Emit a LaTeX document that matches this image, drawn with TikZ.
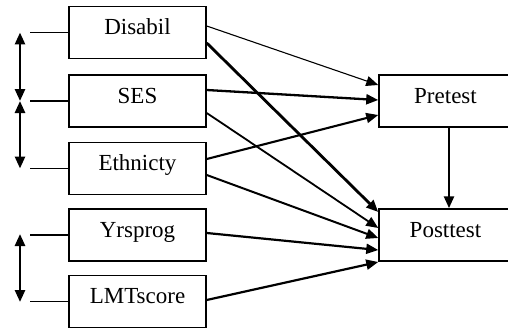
\documentclass[tikz,border=0pt]{standalone}
\usepackage{fontspec}
\setmainfont{Liberation Serif}
\usetikzlibrary{arrows.meta}
\begin{document}
\begin{tikzpicture}[x=1pt,y=-1pt,
  box/.style={draw,line width=1.5pt,minimum width=137pt,minimum height=52pt,inner sep=0pt,
    font=\fontsize{23}{26}\selectfont,text height=16pt,text depth=12pt},
  obox/.style={box,minimum width=133pt},
  arr/.style={-{Triangle[length=12pt,width=10pt]},line width=2pt},
  dbl/.style={{Triangle[length=12pt,width=10pt]}-{Triangle[length=12pt,width=10pt]},line width=2.6pt},
  tick/.style={line width=1.3pt}]
\useasboundingbox (0,0) rectangle (508,329);
\node[box] (dis) at (137.5,32.5) {Disabil};
\node[box] (ses) at (137.5,101) {SES};
\node[box] (eth) at (137.5,168.5) {Ethnicty};
\node[box] (yrs) at (137.5,235) {Yrsprog};
\node[box] (lmt) at (137.5,301.5) {LMTscore};
\node[obox] (pre) at (445.5,101) {Pretest};
\node[obox] (post) at (445.5,235) {Posttest};
% left side ticks
\coordinate (l1) at (30,32.5);
\coordinate (l2) at (30,101);
\coordinate (l3) at (30,168.5);
\coordinate (l4) at (30,235);
\coordinate (l5) at (30,301.5);
\draw[tick] (dis.west) -- (l1);
\draw[tick] (ses.west) -- (l2);
\draw[tick] (eth.west) -- (l3);
\draw[tick] (yrs.west) -- (l4);
\draw[tick] (lmt.west) -- (l5);
\coordinate (a1) at (20,32.5);
\coordinate (a2) at (20,101);
\coordinate (a3) at (20,168.5);
\coordinate (a4) at (20,234);
\coordinate (a5) at (20,302);
\draw[dbl] (a1) -- (a2);
\draw[dbl] (a2) -- (a3);
\draw[dbl] (a4) -- (a5);
% paths to Pretest
\draw[arr,line width=1.1pt] ([yshift=6.5pt]dis.east) -- ([yshift=16pt]pre.west);
\draw[arr,line width=2.3pt] ([yshift=11pt]ses.east) -- ([yshift=1pt]pre.west);
\draw[arr,line width=2.1pt] ([yshift=9.5pt]eth.east) -- ([yshift=-14pt]pre.west);
% paths to Posttest
\draw[arr,line width=2.8pt] ([yshift=-10.5pt]dis.east) -- ([yshift=23pt]post.west);
\draw[arr,line width=1.8pt] ([yshift=-12pt]ses.east) -- ([yshift=7pt]post.west);
\draw[arr,line width=2pt] ([yshift=-6.5pt]eth.east) -- ([yshift=-3pt]post.west);
\draw[arr,line width=2.2pt] ([yshift=2pt]yrs.east) -- ([yshift=-15pt]post.west);
\draw[arr,line width=2.2pt] ([yshift=1.5pt]lmt.east) -- ([yshift=-27pt]post.west);
% Pretest to Posttest
\draw[arr,line width=2.6pt] (pre.south -| 449,0) -- (post.north -| 449,0);
\end{tikzpicture}
\end{document}
